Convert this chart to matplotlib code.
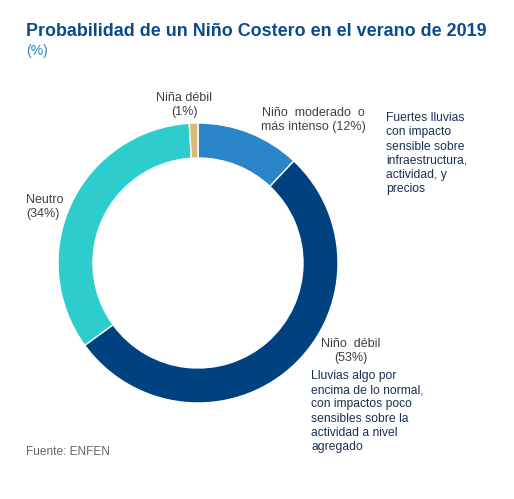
import matplotlib
matplotlib.use("Agg")
import matplotlib.pyplot as plt

plt.rcParams['font.family'] = ['Liberation Sans', 'DejaVu Sans']

categories = ['Niño moderado o\nmás intenso', 'Niño débil', 'Neutro', 'Niña débil']
values = [12, 53, 34, 1]
colors = ['#2B86C9', '#00427F', '#2ECDCD', '#D6BC7A']

W, H = 514, 499
fig = plt.figure(figsize=(W / 100, H / 100), dpi=100)
ax = fig.add_axes([0, 0, 1, 1])

cx, cy, r = 198, H - 263, 140
ax.pie(values, colors=colors, startangle=90, counterclock=False,
       center=(cx, cy), radius=r, frame=True,
       wedgeprops=dict(width=r * 0.25, edgecolor='white', linewidth=1))
ax.set_xlim(0, W)
ax.set_ylim(0, H)
ax.set_aspect('equal')
ax.axis('off')

def py(y):
    return H - y

lab = dict(color='#404040', fontsize=9, linespacing=1.3)
ax.text(184, py(105), f"Niña débil\n({values[3]}%)", ha='center', va='center', **lab)
ax.text(313, py(120), f"Niño  moderado  o\nmás intenso ({values[0]}%)", ha='center', va='center', **lab)
ax.text(26, py(207), f"Neutro\n({values[2]}%)", ha='left', va='center', **lab)
ax.text(351, py(351), f"Niño  débil\n({values[1]}%)", ha='center', va='center', **lab)

note = dict(color='#1B2F52', fontsize=8.7, linespacing=1.25, ha='left', va='top')
ax.text(386, py(112), "Fuertes lluvias\ncon impacto\nsensible sobre\ninfraestructura,\nactividad, y\nprecios", **note)
ax.text(311, py(370), "Lluvias algo por\nencima de lo normal,\ncon impactos poco\nsensibles sobre la\nactividad a nivel\nagregado", **note)

ax.text(26, py(31), "Probabilidad de un Niño Costero en el verano de 2019",
        color='#0B4A8B', fontsize=12.9, fontweight='bold', ha='left', va='center')
ax.text(26, py(51), "(%)", color='#2B86C9', fontsize=10, ha='left', va='center')
ax.text(26, py(452), "Fuente: ENFEN", color='#666666', fontsize=8.6, ha='left', va='center')

fig.savefig('out.png', dpi=100)
